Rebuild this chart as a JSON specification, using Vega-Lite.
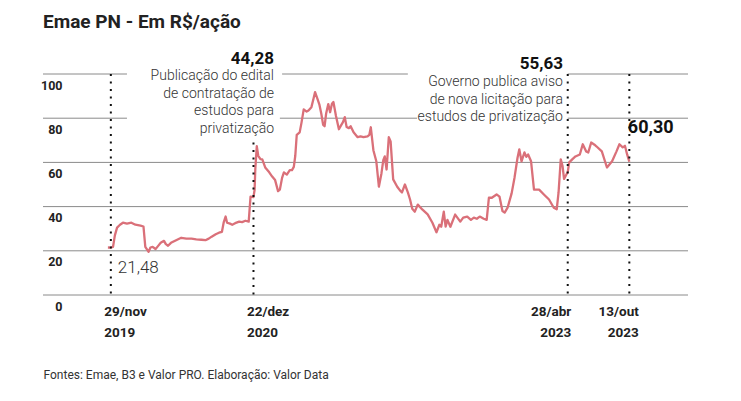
{
  "$schema": "https://vega.github.io/schema/vega-lite/v6.json",
  "width": 645,
  "height": 221,
  "autosize": {"type": "none"},
  "padding": {"left": 43, "top": 74, "right": 53, "bottom": 106},
  "background": "white",
  "config": {"view": {"stroke": null}},
  "title": {"text": "Emae PN - Em R$/ação", "anchor": "start", "frame": "group", "font": "Roboto", "fontSize": 19, "fontWeight": 700, "color": "#222222", "baseline": "alphabetic", "offset": 3},
  "datasets": {
    "grid": [
      {"level": 0, "start": "2019-05-28", "end": "2024-03-21"},
      {"level": 20, "start": "2019-05-28", "end": "2024-03-21"},
      {"level": 40, "start": "2019-05-28", "end": "2024-03-21"},
      {"level": 60, "start": "2019-05-28", "end": "2024-03-21"},
      {"level": 80, "start": "2019-05-28", "end": "2020-01-12"},
      {"level": 80, "start": "2021-03-04", "end": "2022-03-13"},
      {"level": 80, "start": "2023-04-28", "end": "2024-03-21"},
      {"level": 100, "start": "2019-05-28", "end": "2020-01-12"},
      {"level": 100, "start": "2021-03-10", "end": "2022-02-16"},
      {"level": 100, "start": "2023-04-28", "end": "2024-03-21"}
    ],
    "events": [
      {"date": "2019-11-29", "top": 100},
      {"date": "2020-12-22", "top": 69},
      {"date": "2023-04-28", "top": 100},
      {"date": "2023-10-13", "top": 100}
    ],
    "price": [
      {"date": "2019-11-21", "price": 21.5},
      {"date": "2019-11-29", "price": 21.48},
      {"date": "2019-12-05", "price": 21.8},
      {"date": "2019-12-10", "price": 27},
      {"date": "2019-12-16", "price": 30.5},
      {"date": "2019-12-24", "price": 31.8},
      {"date": "2020-01-01", "price": 32.7},
      {"date": "2020-01-12", "price": 32.3},
      {"date": "2020-01-24", "price": 32.7},
      {"date": "2020-02-04", "price": 31.8},
      {"date": "2020-02-18", "price": 31.4},
      {"date": "2020-02-26", "price": 31.0},
      {"date": "2020-03-02", "price": 21.8},
      {"date": "2020-03-11", "price": 19.5},
      {"date": "2020-03-16", "price": 21.5},
      {"date": "2020-03-22", "price": 21.8},
      {"date": "2020-03-30", "price": 20.8},
      {"date": "2020-04-05", "price": 22},
      {"date": "2020-04-13", "price": 23.6},
      {"date": "2020-04-22", "price": 24.5},
      {"date": "2020-04-27", "price": 23.0},
      {"date": "2020-05-03", "price": 22.3},
      {"date": "2020-05-11", "price": 23.6},
      {"date": "2020-05-25", "price": 24.8},
      {"date": "2020-06-08", "price": 25.9},
      {"date": "2020-06-22", "price": 25.5},
      {"date": "2020-07-06", "price": 25.5},
      {"date": "2020-07-19", "price": 25.2},
      {"date": "2020-08-02", "price": 25.0},
      {"date": "2020-08-13", "price": 24.8},
      {"date": "2020-08-22", "price": 25.5},
      {"date": "2020-08-30", "price": 26.4},
      {"date": "2020-09-10", "price": 27.5},
      {"date": "2020-09-19", "price": 28.2},
      {"date": "2020-09-27", "price": 28.6},
      {"date": "2020-10-02", "price": 33},
      {"date": "2020-10-07", "price": 35.5},
      {"date": "2020-10-11", "price": 32.7},
      {"date": "2020-10-19", "price": 32.3},
      {"date": "2020-10-25", "price": 31.8},
      {"date": "2020-11-02", "price": 32.5},
      {"date": "2020-11-13", "price": 33.2},
      {"date": "2020-11-21", "price": 33.0},
      {"date": "2020-11-30", "price": 33.6},
      {"date": "2020-12-09", "price": 33.2},
      {"date": "2020-12-14", "price": 44.5},
      {"date": "2020-12-22", "price": 44.28},
      {"date": "2020-12-25", "price": 47.5},
      {"date": "2020-12-27", "price": 57},
      {"date": "2020-12-31", "price": 67.3},
      {"date": "2021-01-04", "price": 63},
      {"date": "2021-01-10", "price": 61.5},
      {"date": "2021-01-15", "price": 61.4},
      {"date": "2021-01-23", "price": 57.7},
      {"date": "2021-02-03", "price": 55.5},
      {"date": "2021-02-11", "price": 53.6},
      {"date": "2021-02-19", "price": 52},
      {"date": "2021-02-27", "price": 47},
      {"date": "2021-03-04", "price": 47.7},
      {"date": "2021-03-10", "price": 53},
      {"date": "2021-03-15", "price": 55.5},
      {"date": "2021-03-23", "price": 54.5},
      {"date": "2021-03-31", "price": 56.5},
      {"date": "2021-04-06", "price": 56.5},
      {"date": "2021-04-11", "price": 58},
      {"date": "2021-04-15", "price": 63},
      {"date": "2021-04-19", "price": 72.5},
      {"date": "2021-04-27", "price": 73.6},
      {"date": "2021-05-02", "price": 78},
      {"date": "2021-05-08", "price": 84},
      {"date": "2021-05-16", "price": 83},
      {"date": "2021-05-21", "price": 83.5},
      {"date": "2021-05-29", "price": 85},
      {"date": "2021-06-04", "price": 89},
      {"date": "2021-06-08", "price": 91.8},
      {"date": "2021-06-14", "price": 89},
      {"date": "2021-06-20", "price": 86},
      {"date": "2021-06-25", "price": 82},
      {"date": "2021-06-30", "price": 77},
      {"date": "2021-07-04", "price": 76.4},
      {"date": "2021-07-08", "price": 82},
      {"date": "2021-07-14", "price": 86.4},
      {"date": "2021-07-19", "price": 82.7},
      {"date": "2021-07-24", "price": 86.5},
      {"date": "2021-07-28", "price": 87.3},
      {"date": "2021-08-04", "price": 81},
      {"date": "2021-08-12", "price": 75},
      {"date": "2021-08-17", "price": 76.5},
      {"date": "2021-08-23", "price": 78.2},
      {"date": "2021-08-28", "price": 80.5},
      {"date": "2021-09-02", "price": 76},
      {"date": "2021-09-08", "price": 75.5},
      {"date": "2021-09-13", "price": 76.4},
      {"date": "2021-09-21", "price": 73.6},
      {"date": "2021-10-02", "price": 71.4},
      {"date": "2021-10-10", "price": 71.8},
      {"date": "2021-10-18", "price": 71.4},
      {"date": "2021-10-29", "price": 71.8},
      {"date": "2021-11-03", "price": 72.5},
      {"date": "2021-11-07", "price": 75.9},
      {"date": "2021-11-14", "price": 65.5},
      {"date": "2021-11-22", "price": 60.5},
      {"date": "2021-11-29", "price": 49},
      {"date": "2021-12-06", "price": 55},
      {"date": "2021-12-11", "price": 61},
      {"date": "2021-12-15", "price": 62.7},
      {"date": "2021-12-20", "price": 56.8},
      {"date": "2021-12-26", "price": 71.4},
      {"date": "2021-12-31", "price": 69.5},
      {"date": "2022-01-07", "price": 52.3},
      {"date": "2022-01-18", "price": 49},
      {"date": "2022-01-26", "price": 47.2},
      {"date": "2022-01-31", "price": 46.4},
      {"date": "2022-02-08", "price": 50},
      {"date": "2022-02-16", "price": 46.4},
      {"date": "2022-02-22", "price": 43.2},
      {"date": "2022-02-28", "price": 39},
      {"date": "2022-03-07", "price": 37.7},
      {"date": "2022-03-15", "price": 40.9},
      {"date": "2022-03-28", "price": 38.6},
      {"date": "2022-04-11", "price": 36.5},
      {"date": "2022-04-24", "price": 32.7},
      {"date": "2022-05-05", "price": 28.4},
      {"date": "2022-05-13", "price": 31.8},
      {"date": "2022-05-18", "price": 30.9},
      {"date": "2022-05-25", "price": 37.7},
      {"date": "2022-05-30", "price": 30.9},
      {"date": "2022-06-04", "price": 34},
      {"date": "2022-06-12", "price": 30.9},
      {"date": "2022-06-25", "price": 36.4},
      {"date": "2022-07-09", "price": 33.2},
      {"date": "2022-07-17", "price": 35},
      {"date": "2022-07-28", "price": 35.5},
      {"date": "2022-08-07", "price": 34},
      {"date": "2022-08-15", "price": 35},
      {"date": "2022-08-23", "price": 34.5},
      {"date": "2022-08-31", "price": 35.5},
      {"date": "2022-09-11", "price": 34.5},
      {"date": "2022-09-19", "price": 34},
      {"date": "2022-09-25", "price": 44},
      {"date": "2022-10-03", "price": 44},
      {"date": "2022-10-16", "price": 45.5},
      {"date": "2022-10-24", "price": 44.5},
      {"date": "2022-11-01", "price": 38},
      {"date": "2022-11-07", "price": 37.3},
      {"date": "2022-11-15", "price": 39.5},
      {"date": "2022-11-26", "price": 46},
      {"date": "2022-12-04", "price": 53.2},
      {"date": "2022-12-12", "price": 62},
      {"date": "2022-12-17", "price": 65.9},
      {"date": "2022-12-23", "price": 60.5},
      {"date": "2022-12-31", "price": 64.5},
      {"date": "2023-01-05", "price": 62.5},
      {"date": "2023-01-10", "price": 63.6},
      {"date": "2023-01-18", "price": 60.5},
      {"date": "2023-01-26", "price": 47.7},
      {"date": "2023-02-09", "price": 47.7},
      {"date": "2023-02-22", "price": 45.5},
      {"date": "2023-03-08", "price": 43.2},
      {"date": "2023-03-21", "price": 39.5},
      {"date": "2023-03-29", "price": 38.8},
      {"date": "2023-04-03", "price": 46.4},
      {"date": "2023-04-09", "price": 61.4},
      {"date": "2023-04-14", "price": 58.2},
      {"date": "2023-04-18", "price": 52.5},
      {"date": "2023-04-28", "price": 55.63},
      {"date": "2023-05-02", "price": 60},
      {"date": "2023-05-11", "price": 61.5},
      {"date": "2023-05-19", "price": 62.7},
      {"date": "2023-05-31", "price": 63.6},
      {"date": "2023-06-08", "price": 68.2},
      {"date": "2023-06-17", "price": 65},
      {"date": "2023-06-23", "price": 64.5},
      {"date": "2023-07-01", "price": 69},
      {"date": "2023-07-10", "price": 68},
      {"date": "2023-07-15", "price": 67.3},
      {"date": "2023-07-30", "price": 65},
      {"date": "2023-08-13", "price": 57.7},
      {"date": "2023-08-27", "price": 60.5},
      {"date": "2023-09-08", "price": 65},
      {"date": "2023-09-16", "price": 68.2},
      {"date": "2023-09-25", "price": 66.8},
      {"date": "2023-10-01", "price": 67.5},
      {"date": "2023-10-07", "price": 63.6},
      {"date": "2023-10-13", "price": 60.3}
    ],
    "valueLabels": [
      {"date": "2021-02-16", "y": 106.8, "label": "44,28"},
      {"date": "2023-04-15", "y": 104.3, "label": "55,63"}
    ],
    "lastLabel": [
      {"date": "2023-10-09", "y": 75.6, "label": "60,30"}
    ],
    "firstLabel": [
      {"date": "2019-12-18", "y": 12.2, "label": "21,48"}
    ],
    "notes": [
      {"date": "2021-02-16", "y": 102.3, "text": "Publicação do edital\nde contratação de\nestudos para\nprivatização"},
      {"date": "2023-04-15", "y": 99.5, "text": "Governo publica aviso\nde nova licitação para\nestudos de privatização"}
    ]
  },
  "layer": [
    {
      "data": {"name": "grid"},
      "mark": {"type": "rule", "stroke": "#8a8a8a", "strokeWidth": 1},
      "encoding": {
        "x": {
          "field": "start", "type": "temporal",
          "scale": {"domain": [{"year": 2019, "month": 5, "date": 28, "utc": true}, {"year": 2024, "month": 3, "date": 21, "utc": true}]},
          "axis": {
            "values": [
              {"year": 2019, "month": 11, "date": 29, "utc": true},
              {"year": 2020, "month": 12, "date": 22, "utc": true},
              {"year": 2023, "month": 4, "date": 28, "utc": true},
              {"year": 2023, "month": 10, "date": 13, "utc": true}
            ],
            "domain": false, "ticks": false, "grid": false,
            "labelExpr": "[utcFormat(datum.value, '%d') + '/' + ['jan','fev','mar','abr','mai','jun','jul','ago','set','out','nov','dez'][utcmonth(datum.value)], utcFormat(datum.value, '%Y')]",
            "labelFont": "Roboto", "labelFontWeight": 700, "labelFontSize": 13.5, "labelColor": "#222222",
            "labelLineHeight": 21, "labelBaseline": "top", "labelPadding": 9,
            "labelAlign": {"condition": {"test": "datum.value < utc(2022,0,1)", "value": "left"}, "value": "right"},
            "labelOffset": {"condition": [{"test": "datum.value < utc(2022,0,1)", "value": -7}, {"test": "datum.value < utc(2023,6,1)", "value": 3}], "value": 9},
            "labelFlush": false, "labelOverlap": false, "labelBound": false,
            "title": "Fontes: Emae, B3 e Valor PRO. Elaboração: Valor Data",
            "titleAnchor": "start", "titleAlign": "left", "titleFont": "Roboto", "titleFontSize": 12,
            "titleFontWeight": "normal", "titleColor": "#333333", "titlePadding": 31
          }
        },
        "x2": {"field": "end"},
        "y": {
          "field": "level", "type": "quantitative",
          "scale": {"domain": [0, 100]},
          "axis": {
            "values": [0, 20, 40, 60, 80, 100],
            "domain": false, "ticks": false, "grid": false, "title": null,
            "labelAlign": "right", "labelPadding": -19, "labelOffset": 11, "labelBaseline": "middle",
            "labelFont": "Roboto", "labelFontWeight": 700, "labelFontSize": 12.5, "labelColor": "#222222",
            "labelFlush": false, "labelBound": false
          }
        }
      }
    },
    {
      "data": {"name": "price"},
      "mark": {"type": "line", "stroke": "#da7079", "strokeWidth": 2.3, "strokeJoin": "round"},
      "encoding": {
        "x": {"field": "date", "type": "temporal"},
        "y": {"field": "price", "type": "quantitative"}
      }
    },
    {
      "data": {"name": "events"},
      "mark": {"type": "rule", "stroke": "#111111", "strokeWidth": 2, "strokeDash": [2, 5.5]},
      "encoding": {
        "x": {"field": "date", "type": "temporal"},
        "y": {"field": "top", "type": "quantitative"},
        "y2": {"datum": 0}
      }
    },
    {
      "data": {"name": "valueLabels"},
      "mark": {"type": "text", "align": "right", "baseline": "middle", "font": "Roboto", "fontWeight": 700, "fontSize": 17, "color": "#111111"},
      "encoding": {
        "x": {"field": "date", "type": "temporal"},
        "y": {"field": "y", "type": "quantitative"},
        "text": {"field": "label"}
      }
    },
    {
      "data": {"name": "lastLabel"},
      "mark": {"type": "text", "align": "left", "baseline": "middle", "font": "Roboto", "fontWeight": 700, "fontSize": 18, "color": "#111111"},
      "encoding": {
        "x": {"field": "date", "type": "temporal"},
        "y": {"field": "y", "type": "quantitative"},
        "text": {"field": "label"}
      }
    },
    {
      "data": {"name": "firstLabel"},
      "mark": {"type": "text", "align": "left", "baseline": "middle", "font": "Roboto", "fontWeight": 300, "fontSize": 17, "color": "#333333"},
      "encoding": {
        "x": {"field": "date", "type": "temporal"},
        "y": {"field": "y", "type": "quantitative"},
        "text": {"field": "label"}
      }
    },
    {
      "data": {"name": "notes"},
      "mark": {"type": "text", "align": "right", "baseline": "top", "lineBreak": "\n", "lineHeight": 17.7, "font": "Roboto", "fontWeight": 300, "fontSize": 14, "color": "#333333"},
      "encoding": {
        "x": {"field": "date", "type": "temporal"},
        "y": {"field": "y", "type": "quantitative"},
        "text": {"field": "text"}
      }
    }
  ]
}
